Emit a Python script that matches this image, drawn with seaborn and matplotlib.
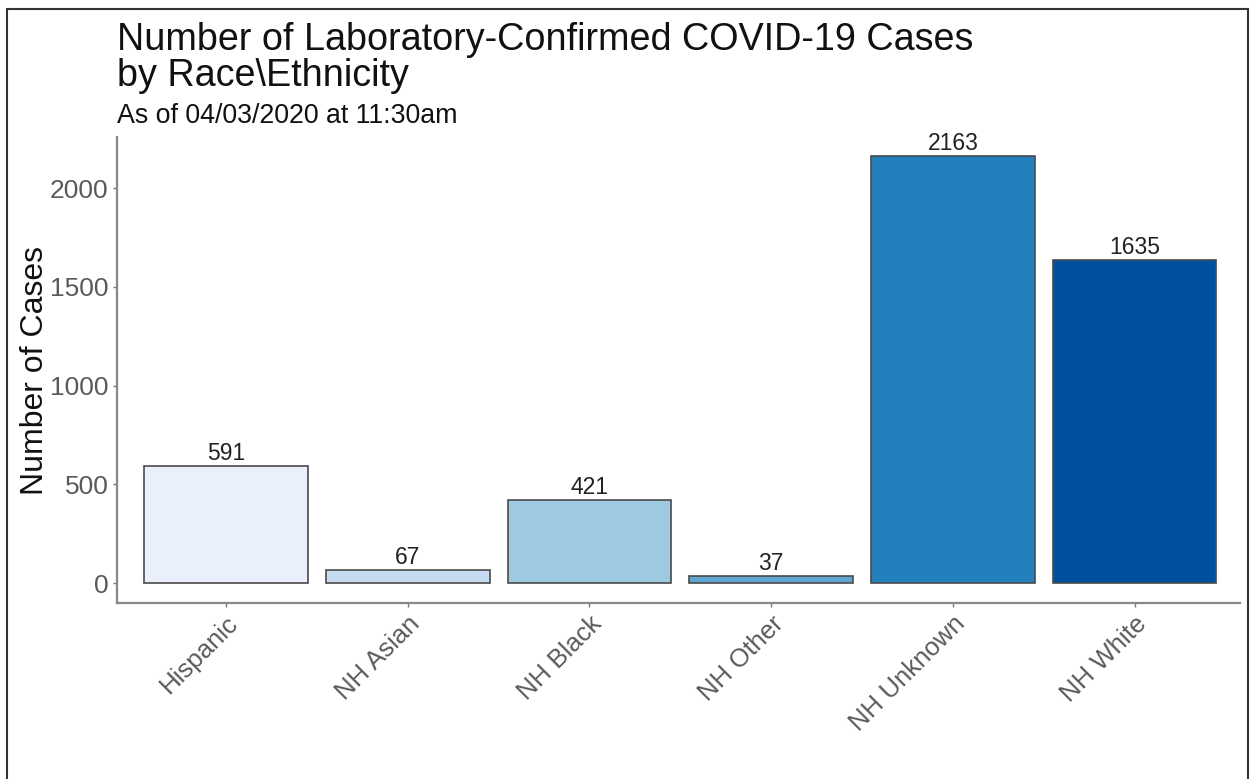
import matplotlib
matplotlib.use("Agg")
import matplotlib.pyplot as plt
import seaborn as sns
import pandas as pd
from matplotlib.patches import Rectangle

categories = ["Hispanic", "NH Asian", "NH Black", "NH Other", "NH Unknown", "NH White"]
cases = [591, 67, 421, 37, 2163, 1635]
colors = ["#EAF0FB", "#C6DBEF", "#9ECAE1", "#5FA6D3", "#2281BD", "#0050A0"]
yticks = [0, 500, 1000, 1500, 2000]

sns.set_style("white")
plt.rcParams["font.family"] = ["Liberation Sans", "DejaVu Sans"]

df = pd.DataFrame({"group": categories, "cases": cases})

fig = plt.figure(figsize=(12.5, 7.79), dpi=100)
ax = fig.add_axes([0.0936, 0.226, 0.8984, 0.598])

sns.barplot(data=df, x="group", y="cases", hue="group",
            palette=dict(zip(categories, colors)), order=categories,
            hue_order=categories, width=0.9, edgecolor="#4a4a4a",
            linewidth=1.2, saturation=1, legend=False, ax=ax)

for i, v in enumerate(cases):
    ax.text(i, v + 6, str(v), ha="center", va="bottom", fontsize=16.5, color="#222222")

ax.set_xlim(-0.6, 5.58)
ax.set_ylim(-101, 2258)
ax.set_yticks(yticks)
ax.set_xlabel("")
ax.set_ylabel("Number of Cases", fontsize=23, color="#111111", labelpad=0)
ax.tick_params(axis="y", labelsize=19, labelcolor="#5a5a5a", length=3, color="#777777", width=1, left=True, pad=3)
ax.tick_params(axis="x", labelsize=18.5, labelcolor="#5a5a5a", length=3, color="#777777", width=1, bottom=True, pad=3)
plt.setp(ax.get_xticklabels(), rotation=45, ha="right", rotation_mode="anchor")
for s in ["top", "right"]:
    ax.spines[s].set_visible(False)
for s in ["left", "bottom"]:
    ax.spines[s].set_color("#888888")
    ax.spines[s].set_linewidth(1.6)

fig.text(0.0936, 1 - 50 / 779, "Number of Laboratory-Confirmed COVID-19 Cases",
         fontsize=27.2, color="#111111", ha="left", va="baseline")
fig.text(0.0936, 1 - 86 / 779, "by Race\\Ethnicity",
         fontsize=27.2, color="#111111", ha="left", va="baseline")
fig.text(0.0936, 1 - 123 / 779, "As of 04/03/2020 at 11:30am", fontsize=19.3, color="#111111",
         ha="left", va="baseline")

fig.patches.append(Rectangle((7 / 1250, -0.02), (1248 - 7) / 1250, 1 - 9 / 779 + 0.02,
                             transform=fig.transFigure, fill=False, edgecolor="#333333",
                             linewidth=1.5))

fig.savefig("out.png", dpi=100)
